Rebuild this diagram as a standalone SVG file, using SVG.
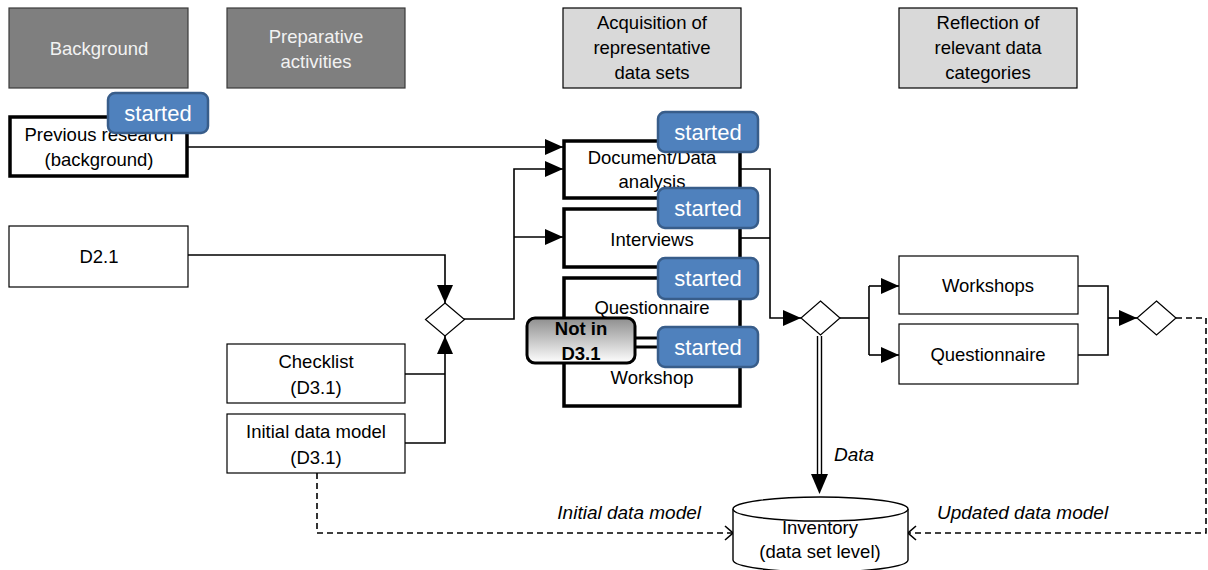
<svg xmlns="http://www.w3.org/2000/svg" width="1208" height="570" viewBox="0 0 1208 570">
<style>
text{font-family:"Liberation Sans",Arial,sans-serif;font-size:18.5px;fill:#000;text-anchor:middle}
.hdrD{fill:#7f7f7f;stroke:#3a3a3a;stroke-width:1.2}
.hdrL{fill:#d9d9d9;stroke:#000;stroke-width:1.2}
.wt{fill:#f2f2f2}
.thin{fill:#fff;stroke:#000;stroke-width:1.2}
.thick{fill:#fff;stroke:#000;stroke-width:3.5}
.badge{fill:#4f81bd;stroke:#385d8a;stroke-width:2.5}
.bt{fill:#fff;font-size:22px}
.c{fill:none;stroke:#000;stroke-width:1.6}
.d{fill:none;stroke:#000;stroke-width:1.6;stroke-dasharray:6 4}
.it{font-style:italic;font-size:19px}
.dia{fill:#fff;stroke:#000;stroke-width:1.2}
</style>
<defs>
<marker id="ah" viewBox="0 0 18 16" refX="18" refY="8" markerWidth="18" markerHeight="16" markerUnits="userSpaceOnUse" orient="auto">
<path d="M0,0 L18,8 L0,16 z" fill="#000"/>
</marker>
<marker id="oa" viewBox="0 0 10 16" refX="9" refY="8" markerWidth="10" markerHeight="16" markerUnits="userSpaceOnUse" orient="auto">
<path d="M1,1 L9,8 L1,15" fill="none" stroke="#000" stroke-width="1.6"/>
</marker>
<linearGradient id="gg" x1="0" y1="0" x2="0" y2="1">
<stop offset="0" stop-color="#8e8e8e"/>
<stop offset="1" stop-color="#ffffff"/>
</linearGradient>
</defs>

<g id="connectors">
<path class="c" d="M188,147 H563" marker-end="url(#ah)"/>
<path class="c" d="M188,255 H445 V303" marker-end="url(#ah)"/>
<path class="c" d="M405,374 H445"/>
<path class="c" d="M405,443 H445 V336" marker-end="url(#ah)"/>
<path class="c" d="M464,319 H514 V169 H563" marker-end="url(#ah)"/>
<path class="c" d="M514,237 H563" marker-end="url(#ah)"/>
<path class="c" d="M741,169 H770 V318 H801" marker-end="url(#ah)"/>
<path class="c" d="M741,238 H770"/>
<path class="c" d="M840,318 H869"/>
<path class="c" d="M869,286 V355"/>
<path class="c" d="M869,286 H899" marker-end="url(#ah)"/>
<path class="c" d="M869,355 H899" marker-end="url(#ah)"/>
<path class="c" d="M1078,286 H1108 V355 H1078"/>
<path class="c" d="M1108,318 H1137" marker-end="url(#ah)"/>
<path class="d" d="M1176,318 H1206 V533 H908" marker-end="url(#oa)"/>
<path class="d" d="M317,473 V533 H733" marker-end="url(#oa)"/>
<line x1="817.5" y1="336" x2="817.5" y2="476" stroke="#000" stroke-width="1.4"/>
<line x1="821.5" y1="336" x2="821.5" y2="476" stroke="#000" stroke-width="1.4"/>
<path d="M811,474 L819.5,494 L828,474 z" fill="#000"/>
<text class="it" x="854" y="461">Data</text>
<text class="it" x="701" y="519" style="text-anchor:end">Initial data model</text>
<text class="it" x="937" y="519" style="text-anchor:start">Updated data model</text>
</g>

<g id="hdr-background"><rect class="hdrD" x="9" y="8" width="179" height="80"/><text class="wt" x="99" y="55">Background</text></g>
<g id="hdr-preparative"><rect class="hdrD" x="227" y="8" width="178" height="80"/><text class="wt" x="316" y="43">Preparative</text><text class="wt" x="316" y="68">activities</text></g>
<g id="hdr-acquisition"><rect class="hdrL" x="563" y="8" width="178" height="80"/><text x="652" y="29">Acquisition of</text><text x="652" y="54">representative</text><text x="652" y="79">data sets</text></g>
<g id="hdr-reflection"><rect class="hdrL" x="899" y="8" width="178" height="80"/><text x="988" y="29">Reflection of</text><text x="988" y="54">relevant data</text><text x="988" y="79">categories</text></g>

<g id="previous-research"><rect class="thick" x="10" y="117" width="177" height="59"/><text x="99" y="141">Previous research</text><text x="99" y="166">(background)</text></g>
<g id="d21"><rect class="thin" x="9" y="226" width="179" height="61"/><text x="99" y="263">D2.1</text></g>
<g id="checklist"><rect class="thin" x="227" y="344" width="178" height="59"/><text x="316" y="368">Checklist</text><text x="316" y="394">(D3.1)</text></g>
<g id="initial-model"><rect class="thin" x="227" y="414" width="178" height="59"/><text x="316" y="438">Initial data model</text><text x="316" y="464">(D3.1)</text></g>
<g id="diamond1"><path class="dia" d="M445,303 L464.5,319.5 L445,336 L425.5,319.5 z"/></g>

<g id="doc-analysis"><rect class="thick" x="564" y="141" width="176" height="57"/><text x="652" y="164">Document/Data</text><text x="652" y="188">analysis</text></g>
<g id="interviews"><rect class="thick" x="564" y="209" width="176" height="58"/><text x="652" y="246">Interviews</text></g>
<g id="quest-workshop"><rect class="thick" x="564" y="278" width="176" height="128"/><text x="652" y="314">Questionnaire</text><text x="652" y="384">Workshop</text></g>

<g id="diamond2"><path class="dia" d="M820.5,301 L840,318 L820.5,335 L801,318 z"/></g>
<g id="workshops"><rect class="thin" x="899" y="256" width="179" height="58"/><text x="988" y="292">Workshops</text></g>
<g id="questionnaire"><rect class="thin" x="899" y="324" width="179" height="60"/><text x="988" y="361">Questionnaire</text></g>
<g id="diamond3"><path class="dia" d="M1156.5,301 L1176,318 L1156.5,335 L1137,318 z"/></g>

<g id="inventory">
<path d="M733,509 V560 A87.5,12 0 0 0 908,560 V509" fill="#fff" stroke="#000" stroke-width="1.4"/>
<ellipse cx="820.5" cy="509" rx="87.5" ry="12" fill="#fff" stroke="#000" stroke-width="1.4"/>
<text x="820" y="534">Inventory</text><text x="820" y="558">(data set level)</text>
</g>

<g id="not-in-d31">
<line x1="634" y1="338" x2="660" y2="338" stroke="#000" stroke-width="3"/>
<line x1="634" y1="347" x2="660" y2="347" stroke="#000" stroke-width="3"/>
<rect x="527" y="318" width="108" height="45" rx="8" fill="url(#gg)" stroke="#000" stroke-width="3"/>
<text x="581" y="335" style="font-weight:bold">Not in</text><text x="581" y="360" style="font-weight:bold">D3.1</text>
</g>

<g id="badge-prev"><rect class="badge" x="108" y="93" width="100" height="40" rx="7"/><text class="bt" x="158" y="121">started</text></g>
<g id="badge-doc"><rect class="badge" x="658" y="112" width="100" height="40" rx="7"/><text class="bt" x="708" y="140">started</text></g>
<g id="badge-int"><rect class="badge" x="658" y="188" width="100" height="40" rx="7"/><text class="bt" x="708" y="216">started</text></g>
<g id="badge-quest"><rect class="badge" x="658" y="258" width="100" height="41" rx="7"/><text class="bt" x="708" y="286">started</text></g>
<g id="badge-ws"><rect class="badge" x="658" y="327" width="100" height="40" rx="7"/><text class="bt" x="708" y="355">started</text></g>
</svg>
